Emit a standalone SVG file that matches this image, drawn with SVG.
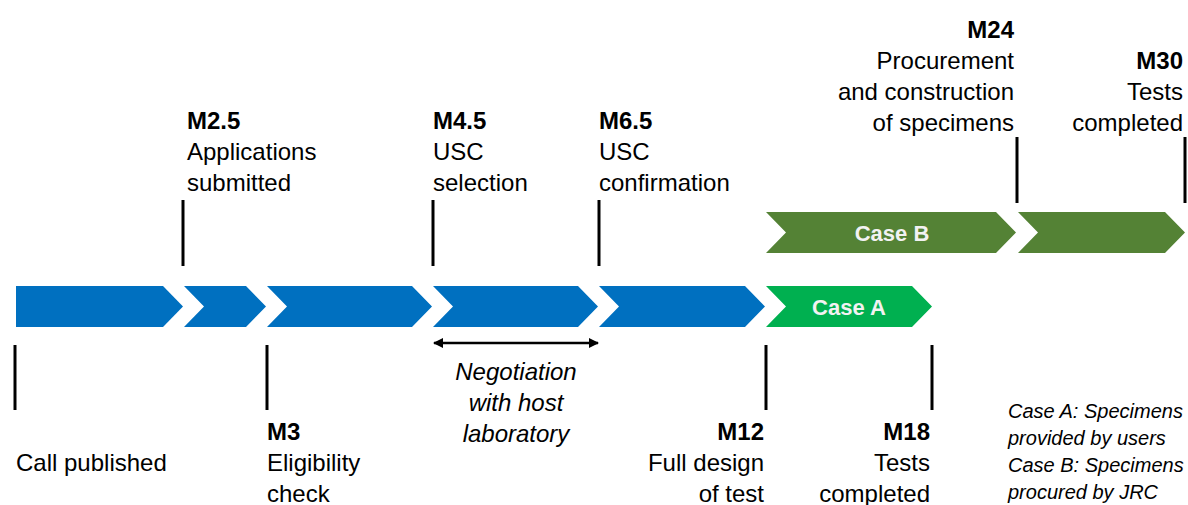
<svg xmlns="http://www.w3.org/2000/svg" width="1188" height="505" viewBox="0 0 1188 505">
<style>
text{font-family:"Liberation Sans",Arial,sans-serif;font-size:24px;fill:#000}
.b{font-weight:bold}
.i{font-style:italic}
.r{text-anchor:end}
.c{text-anchor:middle}
.lg{font-size:20px;font-style:italic}
.lab{font-weight:bold;font-size:22px;fill:#f2f2f2;text-anchor:middle}
.tick{stroke:#000;stroke-width:3;fill:none}
.blue{fill:#0070C0}
.ga{fill:#00B050}
.gb{fill:#548235}
</style>
<defs>
<marker id="ah" viewBox="0 0 10 10" refX="9" refY="5" markerWidth="5" markerHeight="4" orient="auto-start-reverse">
<path d="M0,0 L10,5 L0,10 z" fill="#000"/>
</marker>
</defs>
<g id="bar">
<g id="chev1"><polygon class="blue" points="16,286 163,286 183,306.5 163,327 16,327"/></g>
<g id="chev2"><polygon class="blue" points="184,286 246,286 266,306.5 246,327 184,327 204,306.5"/></g>
<g id="chev3"><polygon class="blue" points="267,286 412,286 432,306.5 412,327 267,327 287,306.5"/></g>
<g id="chev4"><polygon class="blue" points="433,286 578,286 598,306.5 578,327 433,327 453,306.5"/></g>
<g id="chev5"><polygon class="blue" points="599,286 745,286 765,306.5 745,327 599,327 619,306.5"/></g>
<g id="caseA"><polygon class="ga" points="766,286 912,286 932,306.5 912,327 766,327 786,306.5"/><text class="lab" x="849" y="315">Case A</text></g>
<g id="caseB"><polygon class="gb" points="766,212 996,212 1016,232.5 996,253 766,253 786,232.5"/><text class="lab" x="892" y="241">Case B</text></g>
<g id="caseB2"><polygon class="gb" points="1018,212 1165,212 1185,232.5 1165,253 1018,253 1038,232.5"/></g>
</g>
<g id="connectors">
<line class="tick" x1="183" y1="200" x2="183" y2="266"/>
<line class="tick" x1="433" y1="200" x2="433" y2="266"/>
<line class="tick" x1="599" y1="200" x2="599" y2="266"/>
<line class="tick" x1="1017" y1="137" x2="1017" y2="203"/>
<line class="tick" x1="1185" y1="137" x2="1185" y2="203"/>
<line class="tick" x1="15" y1="345" x2="15" y2="410"/>
<line class="tick" x1="267" y1="345" x2="267" y2="410"/>
<line class="tick" x1="766" y1="345" x2="766" y2="410"/>
<line class="tick" x1="932" y1="345" x2="932" y2="410"/>
<line x1="434" y1="343" x2="598" y2="343" stroke="#000" stroke-width="2.5" marker-start="url(#ah)" marker-end="url(#ah)"/>
</g>
<g id="m25"><text x="187" y="129" class="b">M2.5</text><text x="187" y="160">Applications</text><text x="187" y="191">submitted</text></g>
<g id="m45"><text x="433" y="129" class="b">M4.5</text><text x="433" y="160">USC</text><text x="433" y="191">selection</text></g>
<g id="m65"><text x="599" y="129" class="b">M6.5</text><text x="599" y="160">USC</text><text x="599" y="191">confirmation</text></g>
<g id="m24"><text x="1014" y="38" class="b r">M24</text><text x="1014" y="69" class="r">Procurement</text><text x="1014" y="100" class="r">and construction</text><text x="1014" y="131" class="r">of specimens</text></g>
<g id="m30"><text x="1183" y="69" class="b r">M30</text><text x="1183" y="100" class="r">Tests</text><text x="1183" y="131" class="r">completed</text></g>
<g id="call"><text x="16" y="471">Call published</text></g>
<g id="m3"><text x="267" y="440" class="b">M3</text><text x="267" y="471">Eligibility</text><text x="267" y="502">check</text></g>
<g id="m12"><text x="764" y="440" class="b r">M12</text><text x="764" y="471" class="r">Full design</text><text x="764" y="502" class="r">of test</text></g>
<g id="m18"><text x="930" y="440" class="b r">M18</text><text x="930" y="471" class="r">Tests</text><text x="930" y="502" class="r">completed</text></g>
<g id="nego"><text x="516" y="380" class="i c">Negotiation</text><text x="516" y="411" class="i c">with host</text><text x="516" y="442" class="i c">laboratory</text></g>
<g id="legend"><text x="1008" y="418" class="lg">Case A: Specimens</text><text x="1008" y="445" class="lg">provided by users</text><text x="1008" y="472" class="lg">Case B: Specimens</text><text x="1008" y="499" class="lg">procured by JRC</text></g>
</svg>
